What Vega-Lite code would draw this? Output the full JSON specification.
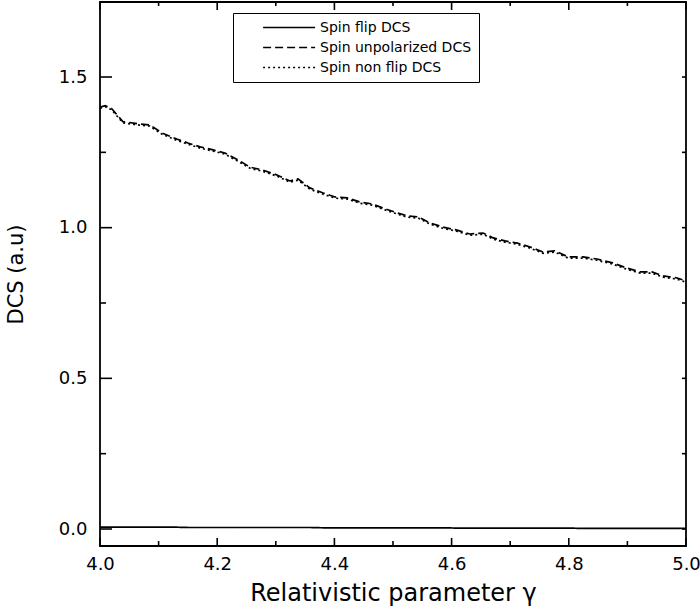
{
  "$schema": "https://vega.github.io/schema/vega-lite/v6.json",
  "width": 586,
  "height": 544,
  "autosize": {"type": "none"},
  "padding": {"left": 100, "top": 2, "right": 14, "bottom": 61},
  "background": "white",
  "config": {
    "view": {"stroke": "black", "strokeWidth": 1.8},
    "font": "DejaVu Sans",
    "axis": {"grid": false, "domain": false, "ticks": false, "labelColor": "black", "titleColor": "black", "labelFont": "DejaVu Sans", "titleFont": "DejaVu Sans", "titleFontWeight": "normal"},
    "legend": {"orient": "none", "legendX": 133, "legendY": 11, "strokeColor": "black", "padding": 7, "labelFont": "DejaVu Sans", "labelFontSize": 14, "labelColor": "black", "symbolType": "M2.4,0H10.4", "symbolSize": 169, "symbolStrokeColor": "black", "symbolStrokeWidth": 1.4, "labelOffset": 65, "rowPadding": 5}
  },
  "datasets": {
    "curves": [
      {"g": 4.000, "flip": 0.006, "unpol": 1.400, "nonflip": 1.396},
      {"g": 4.009, "flip": 0.006, "unpol": 1.405, "nonflip": 1.401},
      {"g": 4.020, "flip": 0.006, "unpol": 1.395, "nonflip": 1.391},
      {"g": 4.039, "flip": 0.006, "unpol": 1.352, "nonflip": 1.348},
      {"g": 4.068, "flip": 0.006, "unpol": 1.344, "nonflip": 1.340},
      {"g": 4.085, "flip": 0.006, "unpol": 1.341, "nonflip": 1.337},
      {"g": 4.106, "flip": 0.006, "unpol": 1.314, "nonflip": 1.310},
      {"g": 4.131, "flip": 0.006, "unpol": 1.294, "nonflip": 1.290},
      {"g": 4.150, "flip": 0.005, "unpol": 1.281, "nonflip": 1.277},
      {"g": 4.171, "flip": 0.005, "unpol": 1.268, "nonflip": 1.264},
      {"g": 4.193, "flip": 0.005, "unpol": 1.258, "nonflip": 1.254},
      {"g": 4.213, "flip": 0.005, "unpol": 1.248, "nonflip": 1.244},
      {"g": 4.235, "flip": 0.005, "unpol": 1.225, "nonflip": 1.221},
      {"g": 4.256, "flip": 0.005, "unpol": 1.201, "nonflip": 1.197},
      {"g": 4.278, "flip": 0.005, "unpol": 1.191, "nonflip": 1.187},
      {"g": 4.302, "flip": 0.005, "unpol": 1.175, "nonflip": 1.171},
      {"g": 4.324, "flip": 0.005, "unpol": 1.155, "nonflip": 1.151},
      {"g": 4.338, "flip": 0.005, "unpol": 1.162, "nonflip": 1.158},
      {"g": 4.358, "flip": 0.005, "unpol": 1.132, "nonflip": 1.128},
      {"g": 4.381, "flip": 0.004, "unpol": 1.115, "nonflip": 1.111},
      {"g": 4.401, "flip": 0.004, "unpol": 1.102, "nonflip": 1.098},
      {"g": 4.422, "flip": 0.004, "unpol": 1.099, "nonflip": 1.095},
      {"g": 4.444, "flip": 0.004, "unpol": 1.085, "nonflip": 1.081},
      {"g": 4.464, "flip": 0.004, "unpol": 1.079, "nonflip": 1.075},
      {"g": 4.483, "flip": 0.004, "unpol": 1.065, "nonflip": 1.061},
      {"g": 4.503, "flip": 0.004, "unpol": 1.052, "nonflip": 1.048},
      {"g": 4.524, "flip": 0.004, "unpol": 1.039, "nonflip": 1.035},
      {"g": 4.543, "flip": 0.004, "unpol": 1.036, "nonflip": 1.032},
      {"g": 4.563, "flip": 0.004, "unpol": 1.016, "nonflip": 1.012},
      {"g": 4.585, "flip": 0.004, "unpol": 1.002, "nonflip": 0.998},
      {"g": 4.609, "flip": 0.003, "unpol": 0.992, "nonflip": 0.988},
      {"g": 4.631, "flip": 0.003, "unpol": 0.979, "nonflip": 0.975},
      {"g": 4.654, "flip": 0.003, "unpol": 0.982, "nonflip": 0.978},
      {"g": 4.671, "flip": 0.003, "unpol": 0.966, "nonflip": 0.962},
      {"g": 4.691, "flip": 0.003, "unpol": 0.956, "nonflip": 0.952},
      {"g": 4.712, "flip": 0.003, "unpol": 0.949, "nonflip": 0.945},
      {"g": 4.734, "flip": 0.003, "unpol": 0.936, "nonflip": 0.932},
      {"g": 4.756, "flip": 0.003, "unpol": 0.919, "nonflip": 0.915},
      {"g": 4.776, "flip": 0.003, "unpol": 0.923, "nonflip": 0.919},
      {"g": 4.799, "flip": 0.003, "unpol": 0.903, "nonflip": 0.899},
      {"g": 4.824, "flip": 0.002, "unpol": 0.903, "nonflip": 0.899},
      {"g": 4.848, "flip": 0.002, "unpol": 0.896, "nonflip": 0.892},
      {"g": 4.875, "flip": 0.002, "unpol": 0.883, "nonflip": 0.879},
      {"g": 4.899, "flip": 0.002, "unpol": 0.866, "nonflip": 0.862},
      {"g": 4.922, "flip": 0.002, "unpol": 0.853, "nonflip": 0.849},
      {"g": 4.942, "flip": 0.002, "unpol": 0.853, "nonflip": 0.849},
      {"g": 4.961, "flip": 0.002, "unpol": 0.840, "nonflip": 0.836},
      {"g": 4.985, "flip": 0.002, "unpol": 0.833, "nonflip": 0.829},
      {"g": 5.000, "flip": 0.002, "unpol": 0.823, "nonflip": 0.819}
    ],
    "xticks": [
      {"g": 4.0, "kind": "major"}, {"g": 4.1, "kind": "minor"}, {"g": 4.2, "kind": "major"}, {"g": 4.3, "kind": "minor"},
      {"g": 4.4, "kind": "major"}, {"g": 4.5, "kind": "minor"}, {"g": 4.6, "kind": "major"}, {"g": 4.7, "kind": "minor"},
      {"g": 4.8, "kind": "major"}, {"g": 4.9, "kind": "minor"}, {"g": 5.0, "kind": "major"}
    ],
    "yticks": [
      {"v": 0.0, "kind": "major"}, {"v": 0.25, "kind": "minor"}, {"v": 0.5, "kind": "major"}, {"v": 0.75, "kind": "minor"},
      {"v": 1.0, "kind": "major"}, {"v": 1.25, "kind": "minor"}, {"v": 1.5, "kind": "major"}
    ]
  },
  "layer": [
    {
      "data": {"name": "curves"},
      "transform": [
        {"fold": ["flip", "unpol", "nonflip"], "as": ["key", "v"]},
        {"lookup": "key", "from": {"data": {"values": [
          {"key": "flip", "series": "Spin flip DCS"},
          {"key": "unpol", "series": "Spin unpolarized DCS"},
          {"key": "nonflip", "series": "Spin non flip DCS"}
        ]}, "key": "key", "fields": ["series"]}}
      ],
      "mark": {"type": "line", "color": "black", "strokeWidth": 1.7, "clip": true},
      "encoding": {
        "x": {"field": "g", "type": "quantitative", "scale": {"domain": [4, 5], "nice": false, "zero": false},
          "axis": {"orient": "bottom", "values": [4, 4.2, 4.4, 4.6, 4.8, 5], "format": ".1f", "labelPadding": 9, "labelFontSize": 18, "labelFlush": false, "title": "Relativistic parameter γ", "titleFontSize": 24, "titlePadding": 8}},
        "y": {"field": "v", "type": "quantitative", "scale": {"domain": [-0.0564, 1.7489], "nice": false, "zero": false},
          "axis": {"orient": "left", "values": [0, 0.5, 1, 1.5], "format": ".1f", "labelPadding": 13, "labelFontSize": 18, "title": "DCS (a.u)", "titleFontSize": 21, "titlePadding": 32}},
        "strokeDash": {"field": "series", "type": "nominal",
          "scale": {"domain": ["Spin flip DCS", "Spin unpolarized DCS", "Spin non flip DCS"], "range": [[1, 0], [8, 4], [2, 3]]},
          "legend": {"title": null}},
        "detail": {"field": "series"}
      }
    },
    {
      "data": {"name": "xticks"},
      "transform": [{"filter": "datum.kind == 'major'"}],
      "mark": {"type": "tick", "orient": "vertical", "color": "black", "opacity": 1, "thickness": 1.6, "size": 8},
      "encoding": {
        "x": {"field": "g", "type": "quantitative"},
        "y": {"datum": -0.0431, "type": "quantitative"}
      }
    },
    {
      "data": {"name": "xticks"},
      "transform": [{"filter": "datum.kind == 'minor'"}],
      "mark": {"type": "tick", "orient": "vertical", "color": "black", "opacity": 1, "thickness": 1.6, "size": 5},
      "encoding": {
        "x": {"field": "g", "type": "quantitative"},
        "y": {"datum": -0.0481, "type": "quantitative"}
      }
    },
    {
      "data": {"name": "xticks"},
      "transform": [{"filter": "datum.kind == 'major'"}],
      "mark": {"type": "tick", "orient": "vertical", "color": "black", "opacity": 1, "thickness": 1.6, "size": 8},
      "encoding": {
        "x": {"field": "g", "type": "quantitative"},
        "y": {"datum": 1.7356, "type": "quantitative"}
      }
    },
    {
      "data": {"name": "xticks"},
      "transform": [{"filter": "datum.kind == 'minor'"}],
      "mark": {"type": "tick", "orient": "vertical", "color": "black", "opacity": 1, "thickness": 1.6, "size": 4},
      "encoding": {
        "x": {"field": "g", "type": "quantitative"},
        "y": {"datum": 1.7423, "type": "quantitative"}
      }
    },
    {
      "data": {"name": "yticks"},
      "transform": [{"filter": "datum.kind == 'major'"}],
      "mark": {"type": "tick", "orient": "horizontal", "color": "black", "opacity": 1, "thickness": 1.6, "size": 12},
      "encoding": {
        "y": {"field": "v", "type": "quantitative"},
        "x": {"datum": 4.0102, "type": "quantitative"}
      }
    },
    {
      "data": {"name": "yticks"},
      "transform": [{"filter": "datum.kind == 'minor'"}],
      "mark": {"type": "tick", "orient": "horizontal", "color": "black", "opacity": 1, "thickness": 1.6, "size": 6},
      "encoding": {
        "y": {"field": "v", "type": "quantitative"},
        "x": {"datum": 4.0051, "type": "quantitative"}
      }
    },
    {
      "data": {"name": "yticks"},
      "mark": {"type": "tick", "orient": "horizontal", "color": "black", "opacity": 1, "thickness": 1.6, "size": 4},
      "encoding": {
        "y": {"field": "v", "type": "quantitative"},
        "x": {"datum": 4.9966, "type": "quantitative"}
      }
    }
  ]
}
